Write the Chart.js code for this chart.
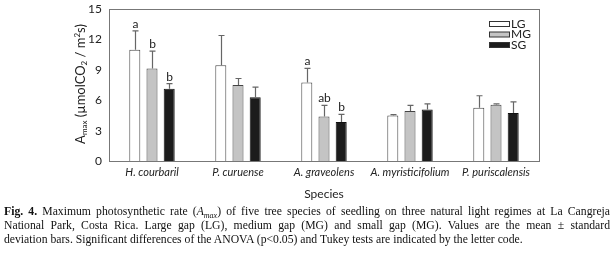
<!DOCTYPE html>
<html><head><meta charset="utf-8">
<script src="https://cdn.jsdelivr.net/npm/chart.js@4"></script>
<style>
html,body{margin:0;padding:0;background:#fff;}
#wrap{position:relative;width:614px;height:257px;}
canvas{position:absolute;left:0;top:0;}
.cap{position:absolute;left:4px;width:606px;font-family:"Liberation Serif",serif;font-size:11.7px;color:#111;white-space:nowrap;}
.j{text-align:justify;text-align-last:justify;white-space:normal;}
</style></head>
<body><div id="wrap"><canvas id="c" width="614" height="257"></canvas>
<div class="cap j" style="top:205px"><b>Fig. 4.</b> Maximum photosynthetic rate (<i>A<sub style="font-size:8px">max</sub></i>) of five tree species of seedling on three natural light regimes at La Cangreja</div>
<div class="cap j" style="top:219px">National Park, Costa Rica. Large gap (LG), medium gap (MG) and small gap (MG). Values are the mean ± standard</div>
<div class="cap" style="top:233px">deviation bars. Significant differences of the ANOVA (p&lt;0.05) and Tukey tests are indicated by the letter code.</div>
</div>
<script>
const species = ['H. courbaril','P. curuense','A. graveolens','A. myristicifolium','P. puriscalensis'];
const seriesNames = ['LG','MG','SG'];
const LG = [11.0, 9.45, 7.75, 4.5, 5.25];
const LG_sd = [1.85, 2.95, 1.4, 0.08, 1.2];
const MG = [9.15, 7.5, 4.4, 4.95, 5.55];
const MG_sd = [1.7, 0.65, 1.1, 0.55, 0.1];
const SG = [7.15, 6.3, 3.85, 5.1, 4.75];
const SG_sd = [0.5, 1.0, 0.75, 0.55, 1.1];
const LG_letters = ['a','','a','',''];
const MG_letters = ['b','','ab','',''];
const SG_letters = ['b','','b','',''];
const yTicks = [0,3,6,9,12,15];

const sds = [LG_sd, MG_sd, SG_sd];
const letters = [LG_letters, MG_letters, SG_letters];
const fills = ['#ffffff','#c4c4c4','#1c1c1c'];
const FONT = 'Lato, "Open Sans", sans-serif';

const extras = {
  id:'extras',
  afterDatasetsDraw(chart){
    const ctx = chart.ctx, y = chart.scales.y, ca = chart.chartArea;
    ctx.save();
    chart.data.datasets.forEach((ds, di) => {
      const meta = chart.getDatasetMeta(di);
      meta.data.forEach((bar, i) => {
        const v = ds.data[i], top = y.getPixelForValue(v + sds[di][i]);
        const x = Math.round(bar.x) + 0.5, yb = y.getPixelForValue(v);
        ctx.strokeStyle = '#666'; ctx.lineWidth = 1.2;
        ctx.beginPath(); ctx.moveTo(x, yb); ctx.lineTo(x, top);
        ctx.moveTo(x - 3, top); ctx.lineTo(x + 3, top); ctx.stroke();
        const L = letters[di][i];
        if (L) {
          ctx.fillStyle = '#222'; ctx.font = '12px ' + FONT;
          ctx.textAlign = 'center'; ctx.textBaseline = 'alphabetic';
          ctx.fillText(L, x, top - 3);
        }
      });
    });
    ctx.strokeStyle = '#777'; ctx.lineWidth = 1;
    ctx.strokeRect(Math.round(ca.left) + 0.5, Math.round(ca.top) + 0.5, Math.round(ca.right - ca.left), Math.round(ca.bottom - ca.top));
    ctx.font = '12px ' + FONT; ctx.textAlign = 'left'; ctx.textBaseline = 'middle';
    seriesNames.forEach((n, k) => {
      const yy = 24 + k * 10.5;
      ctx.fillStyle = fills[k]; ctx.strokeStyle = '#333'; ctx.lineWidth = 1;
      ctx.fillRect(489, yy - 2.5, 20, 5); ctx.strokeRect(489.5, yy - 2.5, 20, 5);
      ctx.fillStyle = '#222'; ctx.fillText(n, 511, yy);
    });
    ctx.translate(80, 84); ctx.rotate(-Math.PI / 2);
    ctx.fillStyle = '#222'; ctx.textBaseline = 'alphabetic';
    const parts = [['A',13,0],['max',8,2],[' (µmolCO',13,0],['2',8,2],[' / m',13,0],['2',8,-5],['s)',13,0]];
    let w = 0;
    parts.forEach(p => { ctx.font = p[1] + 'px ' + FONT; w += ctx.measureText(p[0]).width; });
    let xx = -w / 2;
    parts.forEach(p => { ctx.font = p[1] + 'px ' + FONT; ctx.fillText(p[0], xx, 5 + p[2]); xx += ctx.measureText(p[0]).width; });
    ctx.restore();
  }
};

new Chart(document.getElementById('c'), {
  type:'bar',
  data:{
    labels: species,
    datasets: [
      {label:seriesNames[0], data:LG, backgroundColor:fills[0], borderColor:'#444', borderWidth:1},
      {label:seriesNames[1], data:MG, backgroundColor:fills[1], borderColor:'#444', borderWidth:1},
      {label:seriesNames[2], data:SG, backgroundColor:fills[2], borderColor:'#111', borderWidth:1}
    ]
  },
  options:{
    responsive:false, animation:false, devicePixelRatio:1,
    layout:{padding:{left:0,right:75,top:7,bottom:56}},
    categoryPercentage:0.6, barPercentage:0.64,
    plugins:{legend:{display:false}, tooltip:{enabled:false}},
    scales:{
      x:{
        grid:{display:false, drawTicks:false},
        border:{display:true,color:'#777'},
        ticks:{font:{family:FONT,size:11,style:'italic'},color:'#222',padding:5,maxRotation:0,autoSkip:false},
        title:{display:true,text:'Species',font:{family:FONT,size:12},color:'#222',padding:{top:3,bottom:0}},
        afterFit(s){ s.height = 40; }
      },
      y:{
        min:0,max:15,
        afterBuildTicks(s){ s.ticks = yTicks.map(v => ({value:v})); },
        grid:{display:false, drawTicks:true, tickLength:5, color:'#777'},
        border:{display:true,color:'#777'},
        ticks:{font:{family:FONT,size:12},color:'#222',padding:2},
        afterFit(s){ s.width = 109; }
      }
    }
  },
  plugins:[extras]
});
</script></body></html>
